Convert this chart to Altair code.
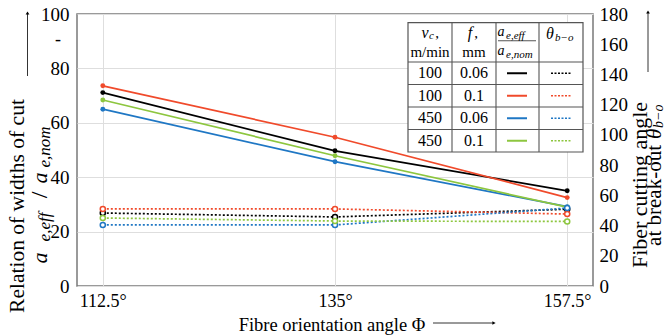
import altair as alt
import pandas as pd

# ---------------- data ----------------
angles = [112.5, 135, 157.5]
angle_labels = ["112.5°", "135°", "157.5°"]
series = ["100 / 0.06", "100 / 0.1", "450 / 0.06", "450 / 0.1"]
colors = ["#000000", "#F04A2B", "#1F77C4", "#8DC63F"]

ratio_black = [71.1, 49.7, 35.0]
ratio_red = [73.6, 54.7, 32.5]
ratio_blue = [65.0, 45.7, 29.2]
ratio_green = [68.4, 47.9, 29.0]

theta_black = [48.3, 45.7, 50.8]
theta_red = [51.0, 51.0, 47.6]
theta_blue = [40.4, 40.4, 51.6]
theta_green = [45.0, 43.0, 42.7]

vc_values = ["100", "100", "450", "450"]
f_values = ["0.06", "0.1", "0.06", "0.1"]

left_ticks = [0, 20, 40, 60, 80, 100]
right_ticks = [0, 20, 40, 60, 80, 100, 120, 140, 160, 180]

FONT = "Liberation Serif, Times New Roman, serif"
W, H = 516, 272

ratios = [ratio_black, ratio_red, ratio_blue, ratio_green]
thetas = [theta_black, theta_red, theta_blue, theta_green]
rows = []
for s, r, t in zip(series, ratios, thetas):
    for a, rv, tv in zip(angles, r, t):
        rows.append({"series": s, "angle": a, "ratio": rv, "theta": tv})
df = pd.DataFrame(rows)

label_expr = " : ".join(f"datum.value == {a} ? '{l}'" for a, l in zip(angles, angle_labels)) + " : ''"

color = alt.Color("series:N", scale=alt.Scale(domain=series, range=colors), legend=None)
xenc = alt.X("angle:Q", scale=alt.Scale(domain=[110, 160], nice=False, zero=False),
             axis=alt.Axis(values=angles, labelExpr=label_expr, grid=True, title=None,
                           labelPadding=6, labelFontSize=18, labelFont=FONT, labelColor="black"))
yl = alt.Y("ratio:Q", scale=alt.Scale(domain=[0, 100], nice=False),
           axis=alt.Axis(values=left_ticks, grid=True, title=None, orient="left",
                         labelPadding=8, labelFontSize=19, labelFont=FONT, labelColor="black"))
yr = alt.Y("theta:Q", scale=alt.Scale(domain=[0, 180], nice=False),
           axis=alt.Axis(values=right_ticks, grid=False, title=None, orient="right",
                         labelPadding=6, labelFontSize=19, labelFont=FONT, labelColor="black"))

base = alt.Chart(df)
left = alt.layer(
    base.mark_line(strokeWidth=1.7).encode(x=xenc, y=yl, color=color, detail="series:N"),
    base.mark_point(filled=True, size=24, opacity=1).encode(x=xenc, y=yl, color=color),
)
right = alt.layer(
    base.mark_line(strokeWidth=1.7, strokeDash=[2, 2]).encode(x=xenc, y=yr, color=color, detail="series:N"),
    base.mark_point(filled=False, fill="white", size=26, strokeWidth=1.5, opacity=1).encode(x=xenc, y=yr, color=color),
)
main = alt.layer(left, right).resolve_scale(y="independent")


def px(v):
    return alt.X(v, scale=None)


def py(v):
    return alt.Y(v, scale=None)


def text_layer(items, **kw):
    d = pd.DataFrame(items)
    return alt.Chart(d).mark_text(font=FONT, color="black", **kw).encode(
        x=px("x:Q"), y=py("y:Q"), text="t:N", size=alt.Size("s:Q", scale=None))


def rule_layer(items, **kw):
    d = pd.DataFrame(items)
    enc = dict(x=px("x:Q"), x2=alt.X2("x2:Q"), y=py("y:Q"), y2=alt.Y2("y2:Q"))
    if "c" in d.columns:
        enc["color"] = alt.Color("c:N", scale=None)
    return alt.Chart(d).mark_rule(**kw).encode(**enc)


# ---------------- legend table ----------------
cols = [331, 375, 419, 462, 506]
rws = [8.7, 48, 70.5, 93, 115.5, 138]
table_bg = alt.Chart(pd.DataFrame([{"x": cols[0], "x2": cols[-1], "y": rws[0], "y2": rws[-1]}])).mark_rect(
    fill="white", stroke="#555555", strokeWidth=1.2).encode(
    x=px("x:Q"), x2=alt.X2("x2:Q"), y=py("y:Q"), y2=alt.Y2("y2:Q"))
grid_items = [{"x": c, "x2": c, "y": rws[0], "y2": rws[-1]} for c in cols[1:-1]]
grid_items += [{"x": cols[0], "x2": cols[-1], "y": r, "y2": r} for r in rws[1:-1]]
grid_items += [{"x": 421, "x2": 459, "y": 26.7, "y2": 26.7}]
table_grid = rule_layer(grid_items, color="#555555", strokeWidth=1.1)

row_c = [(rws[i] + rws[i + 1]) / 2 for i in range(1, 5)]
cell_items = []
for i in range(4):
    cell_items.append({"x": (cols[0] + cols[1]) / 2, "y": row_c[i], "t": vc_values[i], "s": 16})
    cell_items.append({"x": (cols[1] + cols[2]) / 2, "y": row_c[i], "t": f_values[i], "s": 16})
cell_items += [
    {"x": 353, "y": 38, "t": "m/min", "s": 15},
    {"x": 397, "y": 38, "t": "mm", "s": 15},
    {"x": 360, "y": 19, "t": ",", "s": 15},
    {"x": 399, "y": 19, "t": ",", "s": 15},
]
table_text = text_layer(cell_items, baseline="middle", align="center")
head_it = text_layer([
    {"x": 348, "y": 18.5, "t": "v", "s": 16},
    {"x": 393, "y": 18.5, "t": "f", "s": 16},
    {"x": 424, "y": 17.5, "t": "a", "s": 14},
    {"x": 424, "y": 36.5, "t": "a", "s": 14},
    {"x": 473, "y": 19.5, "t": "θ", "s": 16},
], baseline="middle", align="center", fontStyle="italic")
head_sub = text_layer([
    {"x": 352, "y": 22, "t": "c", "s": 11},
    {"x": 429, "y": 21.5, "t": "e,eff", "s": 11},
    {"x": 429, "y": 40.5, "t": "e,nom", "s": 11},
    {"x": 478, "y": 23.5, "t": "b−o", "s": 11},
], baseline="middle", align="left", fontStyle="italic")

samp_solid = rule_layer([{"x": 430, "x2": 450, "y": row_c[i], "y2": row_c[i], "c": colors[i]} for i in range(4)],
                        strokeWidth=2)
samp_dot = rule_layer([{"x": 474, "x2": 494, "y": row_c[i], "y2": row_c[i], "c": colors[i]} for i in range(4)],
                      strokeWidth=1.5, strokeDash=[2, 1.5])

# ---------------- axis titles & arrows ----------------
xtitle = text_layer([{"x": 255, "y": 311, "t": "Fibre orientation angle Φ", "s": 18.5}],
                    baseline="middle", align="center")
unit = text_layer([{"x": -19, "y": 26, "t": "-", "s": 18}], baseline="middle", align="center")
ltitle = text_layer([{"x": -59, "y": 192, "t": "Relation of widths of cut", "s": 21.5}],
                    baseline="middle", align="center", angle=270)
lform_main = text_layer([
    {"x": -37, "y": 244, "t": "a", "s": 22},
    {"x": -37, "y": 164, "t": "a", "s": 22},
], baseline="middle", align="center", angle=270, fontStyle="italic")
lform_slash = text_layer([{"x": -37, "y": 181, "t": "/", "s": 24}], baseline="middle", align="center", angle=270)
lform_sub = text_layer([
    {"x": -32, "y": 213, "t": "e,eff", "s": 17},
    {"x": -32, "y": 133, "t": "e,nom", "s": 17},
], baseline="middle", align="center", angle=270, fontStyle="italic")
rtitle = text_layer([{"x": 563, "y": 171, "t": "Fiber cutting angle", "s": 22}],
                    baseline="middle", align="center", angle=270)
rtitle2 = text_layer([{"x": 578, "y": 131, "t": "at break-out", "s": 21}],
                     baseline="middle", align="right", angle=270)
rtheta = text_layer([{"x": 578, "y": 125, "t": "θ", "s": 21}], baseline="middle", align="left",
                    angle=270, fontStyle="italic")
rtheta_sub = text_layer([{"x": 582, "y": 114, "t": "b−o", "s": 14}], baseline="middle", align="left",
                        angle=270, fontStyle="italic")

arrows = rule_layer([
    {"x": 356, "x2": 416, "y": 309, "y2": 309},
    {"x": -49.5, "x2": -49.5, "y": 62, "y2": 0},
    {"x": 571, "x2": 571, "y": 58, "y2": -1},
], color="black", strokeWidth=0.8)
heads = alt.Chart(pd.DataFrame([
    {"x": 417, "y": 309, "sh": "triangle-right"},
    {"x": -49.5, "y": -1, "sh": "triangle-up"},
    {"x": 571, "y": -2, "sh": "triangle-up"},
])).mark_point(filled=True, color="black", size=14, opacity=1).encode(
    x=px("x:Q"), y=py("y:Q"), shape=alt.Shape("sh:N", scale=None))

chart = alt.layer(
    main, table_bg, table_grid, table_text, head_it, head_sub, samp_solid, samp_dot,
    xtitle, unit, ltitle, lform_main, lform_slash, lform_sub, rtitle, rtitle2, rtheta, rtheta_sub,
    arrows, heads,
).properties(
    width=W, height=H,
    padding={"left": 77, "top": 14, "right": 74, "bottom": 50},
    autosize=alt.AutoSizeParams(type="none"),
).configure_axis(
    labelFont=FONT, labelColor="black", ticks=False, domain=False,
    gridColor="#dedede", gridWidth=1,
).configure_view(
    stroke="#7a7a7a", strokeWidth=1.5,
)

chart.save("out.html", embed_options={"renderer": "svg", "actions": False})
